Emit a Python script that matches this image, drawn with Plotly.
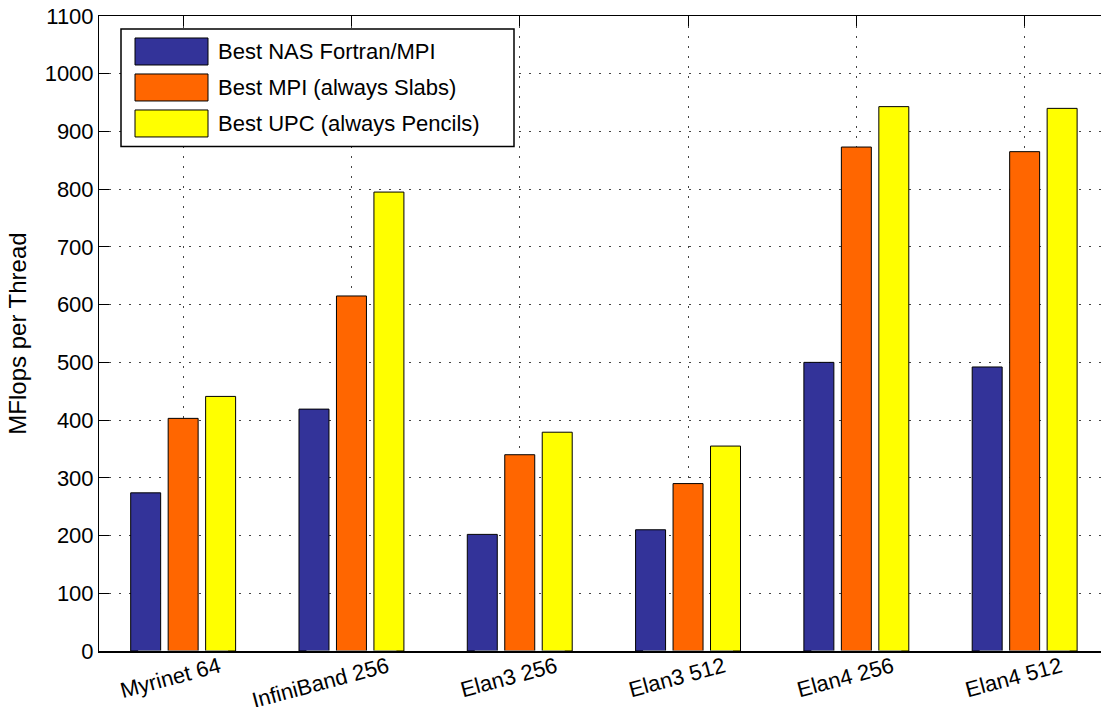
import plotly.graph_objects as go

categories = ["Myrinet 64", "InfiniBand 256", "Elan3 256", "Elan3 512", "Elan4 256", "Elan4 512"]
series_names = ["Best NAS Fortran/MPI", "Best MPI (always Slabs)", "Best UPC (always Pencils)"]
nas_fortran_mpi = [274, 419, 202, 210, 500, 492]
mpi_slabs = [403, 615, 340, 290, 873, 865]
upc_pencils = [441, 795, 379, 355, 943, 940]
y_ticks = [0, 100, 200, 300, 400, 500, 600, 700, 800, 900, 1000, 1100]

colors = ["#333399", "#FF6600", "#FFFF00"]
series_values = [nas_fortran_mpi, mpi_slabs, upc_pencils]

FONT = "Liberation Sans, Arial, sans-serif"
W, H = 1101, 707
ML, MT = 99, 15.5
MB = H - 650.7
plot_w = W - ML
plot_h = H - MT - MB
unit = 168.3

fig = go.Figure()
for name, vals, col in zip(series_names, series_values, colors):
    fig.add_trace(go.Bar(
        x=categories, y=vals, name=name,
        marker=dict(color=col, line=dict(color="black", width=1)),
        showlegend=False,
    ))

grid_dash = "2px,8px"
fig.update_layout(
    width=W, height=H,
    margin=dict(l=ML, r=0, t=MT, b=MB, autoexpand=False),
    paper_bgcolor="white", plot_bgcolor="white",
    barmode="group", bargap=0.332, bargroupgap=0.2,
    font=dict(family=FONT, size=22, color="black"),
    xaxis=dict(
        type="category", range=[-0.5, -0.5 + plot_w / unit],
        showline=True, linecolor="black", linewidth=1.5,
        showgrid=True, gridcolor="#444", gridwidth=1, griddash=grid_dash,
        ticks="", tickangle=-15, ticklabelshift=36, ticklabelstandoff=-7,
        tickfont=dict(size=22), automargin=False, ticklabeloverflow="allow",
        zeroline=False,
    ),
    xaxis2=dict(
        type="category", overlaying="x", matches="x", side="top",
        showline=True, linecolor="black", linewidth=1,
        ticks="inside", ticklen=10, tickcolor="black",
        showticklabels=False, showgrid=False, zeroline=False, automargin=False,
    ),
    yaxis=dict(
        range=[0, 1100], tickvals=y_ticks, ticktext=[str(v) for v in y_ticks],
        showline=True, linecolor="black", linewidth=1,
        ticks="inside", ticklen=10, tickcolor="black",
        showgrid=True, gridcolor="#444", gridwidth=1, griddash=grid_dash,
        zeroline=False, tickfont=dict(size=22), automargin=False,
        ticklabeloverflow="allow",
        title=dict(text="MFlops per Thread", font=dict(size=24), standoff=11),
    ),
)
fig.add_trace(go.Bar(x=categories, y=[0]*len(categories), xaxis="x2",
                     marker=dict(color="rgba(0,0,0,0)"), showlegend=False, hoverinfo="skip"))

def px_x(p):
    return (p - ML) / plot_w

def px_y(p):
    return (H - MB - p) / plot_h

shapes = [dict(type="rect", xref="paper", yref="paper",
               x0=px_x(121), x1=px_x(514), y0=px_y(146), y1=px_y(28.5),
               line=dict(color="black", width=1.5), fillcolor="white", layer="above")]
annotations = []
row_tops = [37.5, 73.5, 109.5]
for name, col, top in zip(series_names, colors, row_tops):
    shapes.append(dict(type="rect", xref="paper", yref="paper",
                       x0=px_x(135), x1=px_x(208), y0=px_y(top + 27), y1=px_y(top),
                       line=dict(color="black", width=1), fillcolor=col, layer="above"))
    annotations.append(dict(xref="paper", yref="paper", x=px_x(216), y=px_y(top + 13.5),
                            text=name, showarrow=False, xanchor="left", yanchor="middle",
                            font=dict(size=22, family=FONT, color="black")))
fig.update_layout(shapes=shapes, annotations=annotations)

fig.write_html("out.html", config={"displayModeBar": False},
               post_script="document.body.style.margin='0';")
